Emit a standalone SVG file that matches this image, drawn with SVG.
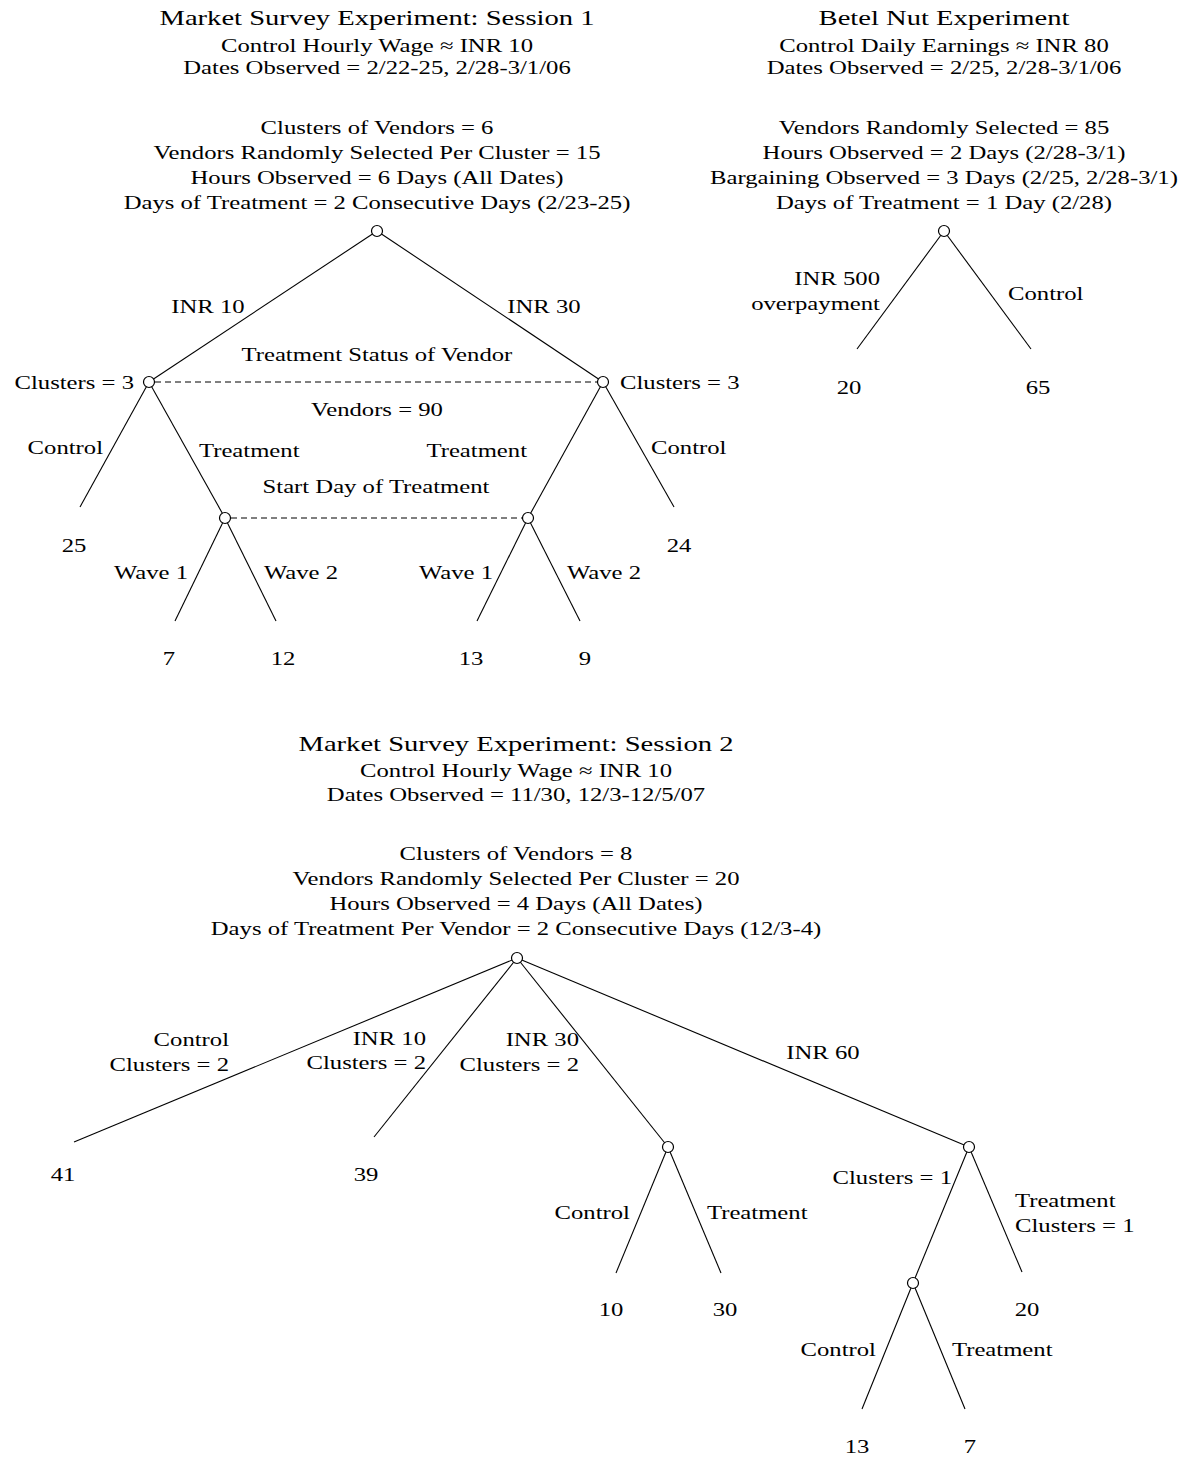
<svg xmlns="http://www.w3.org/2000/svg" width="1190" height="1457" viewBox="0 0 1190 1457">
<style>
text{font-family:"Liberation Serif","DejaVu Serif",serif;font-size:19px;fill:#000;transform-box:fill-box;transform:scaleX(1.3)}
.t{font-size:22px}
.m{text-anchor:middle;transform-origin:50% 50%}
.e{text-anchor:end;transform-origin:100% 50%}
.s{text-anchor:start;transform-origin:0% 50%}
.ln{stroke:#000;stroke-width:1.1;fill:none}
.d{stroke:#000;stroke-width:1.1;stroke-dasharray:6,4;fill:none}
.n{fill:#fff;stroke:#000;stroke-width:1.2}
</style>
<rect width="1190" height="1457" fill="#fff"/>
<!-- Headers -->
<g id="header-s1">
<text class="t m" x="377" y="25">Market Survey Experiment: Session 1</text>
<text class="m" x="377" y="52">Control Hourly Wage ≈ INR 10</text>
<text class="m" x="377" y="74">Dates Observed = 2/22-25, 2/28-3/1/06</text>
<text class="m" x="377" y="134">Clusters of Vendors = 6</text>
<text class="m" x="377" y="159">Vendors Randomly Selected Per Cluster = 15</text>
<text class="m" x="377" y="184">Hours Observed = 6 Days (All Dates)</text>
<text class="m" x="377" y="209">Days of Treatment = 2 Consecutive Days (2/23-25)</text>
</g>
<g id="header-betel">
<text class="t m" x="944" y="25">Betel Nut Experiment</text>
<text class="m" x="944" y="52">Control Daily Earnings ≈ INR 80</text>
<text class="m" x="944" y="74">Dates Observed = 2/25, 2/28-3/1/06</text>
<text class="m" x="944" y="134">Vendors Randomly Selected = 85</text>
<text class="m" x="944" y="159">Hours Observed = 2 Days (2/28-3/1)</text>
<text class="m" x="944" y="184">Bargaining Observed = 3 Days (2/25, 2/28-3/1)</text>
<text class="m" x="944" y="209">Days of Treatment = 1 Day (2/28)</text>
</g>
<g id="header-s2">
<text class="t m" x="516" y="751">Market Survey Experiment: Session 2</text>
<text class="m" x="516" y="777">Control Hourly Wage ≈ INR 10</text>
<text class="m" x="516" y="801">Dates Observed = 11/30, 12/3-12/5/07</text>
<text class="m" x="516" y="860">Clusters of Vendors = 8</text>
<text class="m" x="516" y="885">Vendors Randomly Selected Per Cluster = 20</text>
<text class="m" x="516" y="910">Hours Observed = 4 Days (All Dates)</text>
<text class="m" x="516" y="935">Days of Treatment Per Vendor = 2 Consecutive Days (12/3-4)</text>
</g>
<!-- Connectors -->
<g id="connectors">
<line class="ln" x1="377" y1="231" x2="149" y2="382"/>
<line class="ln" x1="377" y1="231" x2="603" y2="382"/>
<line class="d" x1="155" y1="382" x2="597" y2="382"/>
<line class="ln" x1="149" y1="382" x2="80" y2="507"/>
<line class="ln" x1="149" y1="382" x2="225" y2="518"/>
<line class="ln" x1="603" y1="382" x2="528" y2="518"/>
<line class="ln" x1="603" y1="382" x2="674" y2="507"/>
<line class="d" x1="231" y1="518" x2="522" y2="518"/>
<line class="ln" x1="225" y1="518" x2="175" y2="621"/>
<line class="ln" x1="225" y1="518" x2="276" y2="621"/>
<line class="ln" x1="528" y1="518" x2="477" y2="621"/>
<line class="ln" x1="528" y1="518" x2="580" y2="621"/>
<line class="ln" x1="944" y1="231" x2="857" y2="349"/>
<line class="ln" x1="944" y1="231" x2="1031" y2="349"/>
<line class="ln" x1="517" y1="958" x2="74" y2="1142"/>
<line class="ln" x1="517" y1="958" x2="374" y2="1137"/>
<line class="ln" x1="517" y1="958" x2="668" y2="1147"/>
<line class="ln" x1="517" y1="958" x2="969" y2="1147"/>
<line class="ln" x1="668" y1="1147" x2="616" y2="1273"/>
<line class="ln" x1="668" y1="1147" x2="721" y2="1273"/>
<line class="ln" x1="969" y1="1147" x2="913" y2="1283"/>
<line class="ln" x1="969" y1="1147" x2="1022" y2="1272"/>
<line class="ln" x1="913" y1="1283" x2="862" y2="1409"/>
<line class="ln" x1="913" y1="1283" x2="965" y2="1409"/>
</g>
<!-- Edge labels and leaf values -->
<g id="labels-s1">
<text class="m" x="208" y="313">INR 10</text>
<text class="m" x="544" y="313">INR 30</text>
<text class="m" x="377" y="361">Treatment Status of Vendor</text>
<text class="m" x="377" y="416">Vendors = 90</text>
<text class="e" x="134" y="389">Clusters = 3</text>
<text class="s" x="620" y="389">Clusters = 3</text>
<text class="e" x="103" y="454">Control</text>
<text class="s" x="199" y="457">Treatment</text>
<text class="e" x="527" y="457">Treatment</text>
<text class="s" x="651" y="454">Control</text>
<text class="m" x="376" y="493">Start Day of Treatment</text>
<text class="m" x="74" y="552">25</text>
<text class="m" x="679" y="552">24</text>
<text class="e" x="188" y="579">Wave 1</text>
<text class="s" x="264" y="579">Wave 2</text>
<text class="e" x="493" y="579">Wave 1</text>
<text class="s" x="567" y="579">Wave 2</text>
<text class="m" x="169" y="665">7</text>
<text class="m" x="283" y="665">12</text>
<text class="m" x="471" y="665">13</text>
<text class="m" x="585" y="665">9</text>
</g>
<g id="labels-betel">
<text class="e" x="880" y="285">INR 500</text>
<text class="e" x="880" y="310">overpayment</text>
<text class="s" x="1008" y="300">Control</text>
<text class="m" x="849" y="394">20</text>
<text class="m" x="1038" y="394">65</text>
</g>
<g id="labels-s2">
<text class="e" x="229" y="1046">Control</text>
<text class="e" x="229" y="1071">Clusters = 2</text>
<text class="e" x="426" y="1045">INR 10</text>
<text class="e" x="426" y="1069">Clusters = 2</text>
<text class="e" x="579" y="1046">INR 30</text>
<text class="e" x="579" y="1071">Clusters = 2</text>
<text class="m" x="823" y="1059">INR 60</text>
<text class="m" x="63" y="1181">41</text>
<text class="m" x="366" y="1181">39</text>
<text class="e" x="630" y="1219">Control</text>
<text class="s" x="707" y="1219">Treatment</text>
<text class="m" x="611" y="1316">10</text>
<text class="m" x="725" y="1316">30</text>
<text class="e" x="952" y="1184">Clusters = 1</text>
<text class="s" x="1015" y="1207">Treatment</text>
<text class="s" x="1015" y="1232">Clusters = 1</text>
<text class="m" x="1027" y="1316">20</text>
<text class="e" x="876" y="1356">Control</text>
<text class="s" x="952" y="1356">Treatment</text>
<text class="m" x="857" y="1453">13</text>
<text class="m" x="970" y="1453">7</text>
</g>
<!-- Nodes -->
<g id="node-s1-root"><circle class="n" cx="377" cy="231" r="5.5"/></g>
<g id="node-s1-inr10"><circle class="n" cx="149" cy="382" r="5.5"/></g>
<g id="node-s1-inr30"><circle class="n" cx="603" cy="382" r="5.5"/></g>
<g id="node-s1-t10"><circle class="n" cx="225" cy="518" r="5.5"/></g>
<g id="node-s1-t30"><circle class="n" cx="528" cy="518" r="5.5"/></g>
<g id="node-betel-root"><circle class="n" cx="944" cy="231" r="5.5"/></g>
<g id="node-s2-root"><circle class="n" cx="517" cy="958" r="5.5"/></g>
<g id="node-s2-inr30"><circle class="n" cx="668" cy="1147" r="5.5"/></g>
<g id="node-s2-inr60"><circle class="n" cx="969" cy="1147" r="5.5"/></g>
<g id="node-s2-inr60c"><circle class="n" cx="913" cy="1283" r="5.5"/></g>
</svg>
